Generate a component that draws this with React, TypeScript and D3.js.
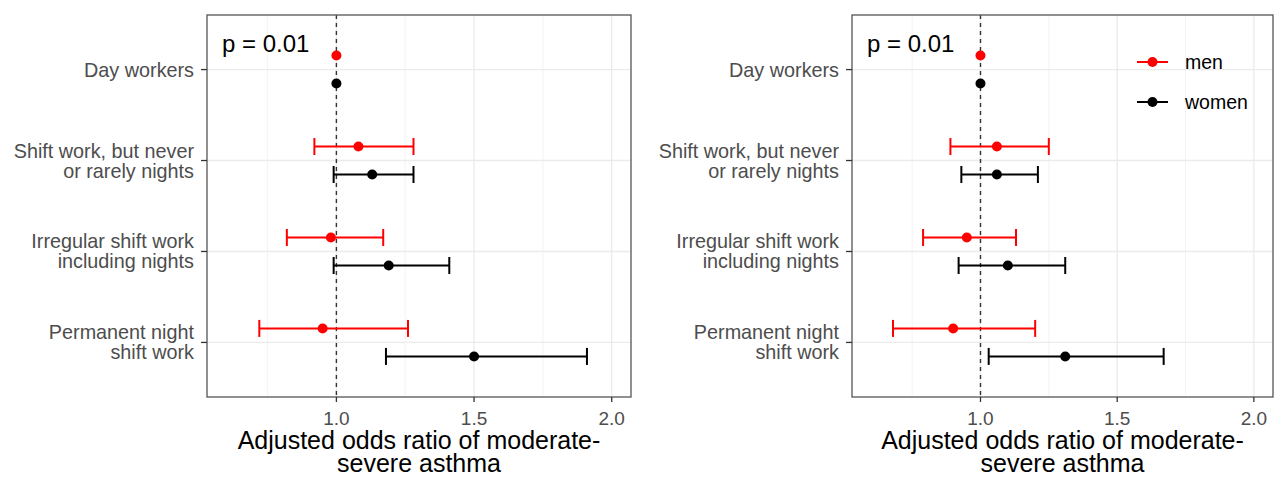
import React from "react";
import * as d3 from "d3";

// categories (y axis), each split into display lines
const categories = ["Day workers", "Shift never nights", "Irregular", "Permanent night"];
const categoryLines = [
  ["Day workers"],
  ["Shift work, but never", "or rarely nights"],
  ["Irregular shift work", "including nights"],
  ["Permanent night", "shift work"],
];

// left panel
const menEstL = [1.0, 1.08, 0.98, 0.95];
const menLoL = [null, 0.92, 0.82, 0.72];
const menHiL = [null, 1.28, 1.17, 1.26];
const womenEstL = [1.0, 1.13, 1.19, 1.5];
const womenLoL = [null, 0.99, 0.99, 1.18];
const womenHiL = [null, 1.28, 1.41, 1.91];

// right panel
const menEstR = [1.0, 1.06, 0.95, 0.9];
const menLoR = [null, 0.89, 0.79, 0.68];
const menHiR = [null, 1.25, 1.13, 1.2];
const womenEstR = [1.0, 1.06, 1.1, 1.31];
const womenLoR = [null, 0.93, 0.92, 1.03];
const womenHiR = [null, 1.21, 1.31, 1.67];

const majorTicks = [1.0, 1.5, 2.0];
const minorTicks = [0.75, 1.25, 1.75];
const xLimits = [0.6, 2.0];
const pLabel = "p = 0.01";
const xTitle = ["Adjusted odds ratio of moderate-", "severe asthma"];
const groups = ["men", "women"];
const groupColors = ["#ff0000", "#000000"];

const W = 1275;
const H = 481;
const top = 15;
const bottom = 397;
const font = "'Liberation Sans', Arial, Helvetica, sans-serif";

type Row = { cat: string; est: number; lo: number | null; hi: number | null };

const build = (est: number[], lo: (number | null)[], hi: (number | null)[]): Row[] =>
  categories.map((c, i) => ({ cat: c, est: est[i], lo: lo[i], hi: hi[i] }));

const Panel = ({ left, right, men, women, legend }: { left: number; right: number; men: Row[]; women: Row[]; legend: boolean }) => {
  const pad = (xLimits[1] - xLimits[0]) * 0.05;
  const x = d3.scaleLinear().domain([xLimits[0] - pad, xLimits[1] + pad]).range([left, right]);
  const y = d3.scalePoint<string>().domain(categories).range([top, bottom]).padding(0.6);
  const dodge = 14;
  const cap = 8.5;

  const series = [
    { rows: men, off: -dodge, color: groupColors[0] },
    { rows: women, off: dodge, color: groupColors[1] },
  ];

  return (
    <g>
      <rect x={left} y={top} width={right - left} height={bottom - top} fill="#fff" />
      {minorTicks.map(t => (
        <line key={"mi" + t} x1={x(t)} x2={x(t)} y1={top} y2={bottom} stroke="#f0f0f0" strokeWidth={0.8} />
      ))}
      {majorTicks.map(t => (
        <line key={"ma" + t} x1={x(t)} x2={x(t)} y1={top} y2={bottom} stroke="#ebebeb" strokeWidth={1.3} />
      ))}
      {categories.map(c => (
        <line key={"h" + c} x1={left} x2={right} y1={y(c)} y2={y(c)} stroke="#ebebeb" strokeWidth={1.3} />
      ))}
      <line x1={x(1)} x2={x(1)} y1={top} y2={bottom} stroke="#333" strokeWidth={1.4} strokeDasharray="4,4" />
      {series.map((s, si) =>
        s.rows.map(r => {
          const cy = (y(r.cat) as number) + s.off;
          return (
            <g key={si + r.cat}>
              {r.lo != null && r.hi != null && (
                <g stroke={s.color} strokeWidth={2}>
                  <line x1={x(r.lo)} x2={x(r.hi)} y1={cy} y2={cy} />
                  <line x1={x(r.lo)} x2={x(r.lo)} y1={cy - cap} y2={cy + cap} />
                  <line x1={x(r.hi)} x2={x(r.hi)} y1={cy - cap} y2={cy + cap} />
                </g>
              )}
              <circle cx={x(r.est)} cy={cy} r={5} fill={s.color} />
            </g>
          );
        })
      )}
      <rect x={left} y={top} width={right - left} height={bottom - top} fill="none" stroke="#555" strokeWidth={1.3} />
      {/* y axis */}
      {categories.map((c, i) => {
        const cy = y(c) as number;
        const lines = categoryLines[i];
        return (
          <g key={"yl" + c}>
            <line x1={left - 6} x2={left} y1={cy} y2={cy} stroke="#333" strokeWidth={1.3} />
            {lines.map((l, j) => (
              <text
                key={l}
                x={left - 13}
                y={lines.length === 1 ? cy + 7 : cy - 3 + j * 20}
                textAnchor="end"
                fontSize={19.8}
                fill="#4d4d4d"
                fontFamily={font}
              >
                {l}
              </text>
            ))}
          </g>
        );
      })}
      {/* x axis */}
      {majorTicks.map(t => (
        <g key={"xt" + t}>
          <line x1={x(t)} x2={x(t)} y1={bottom} y2={bottom + 5} stroke="#333" strokeWidth={1.3} />
          <text x={x(t)} y={425} textAnchor="middle" fontSize={19} fill="#4d4d4d" fontFamily={font}>
            {d3.format(".1f")(t)}
          </text>
        </g>
      ))}
      {xTitle.map((l, j) => (
        <text key={l} x={(left + right) / 2} y={449 + j * 23} textAnchor="middle" fontSize={25} fill="#000" fontFamily={font}>
          {l}
        </text>
      ))}
      <text x={left + 15} y={52} fontSize={24} fill="#000" fontFamily={font}>
        {pLabel}
      </text>
      {legend &&
        groups.map((g, i) => {
          const ly = 62 + i * 40;
          return (
            <g key={g}>
              <line x1={1137} x2={1168} y1={ly} y2={ly} stroke={groupColors[i]} strokeWidth={2} />
              <circle cx={1152.5} cy={ly} r={5} fill={groupColors[i]} />
              <text x={1185} y={ly + 7} fontSize={19.5} fill="#000" fontFamily={font}>
                {g}
              </text>
            </g>
          );
        })}
    </g>
  );
};

export default function App() {
  return (
    <svg width={W} height={H} style={{ position: "absolute", left: 0, top: 0, background: "#fff" }}>
      <rect width={W} height={H} fill="#fff" />
      <Panel left={207} right={631} men={build(menEstL, menLoL, menHiL)} women={build(womenEstL, womenLoL, womenHiL)} legend={false} />
      <Panel left={852} right={1273} men={build(menEstR, menLoR, menHiR)} women={build(womenEstR, womenLoR, womenHiR)} legend={true} />
    </svg>
  );
}
